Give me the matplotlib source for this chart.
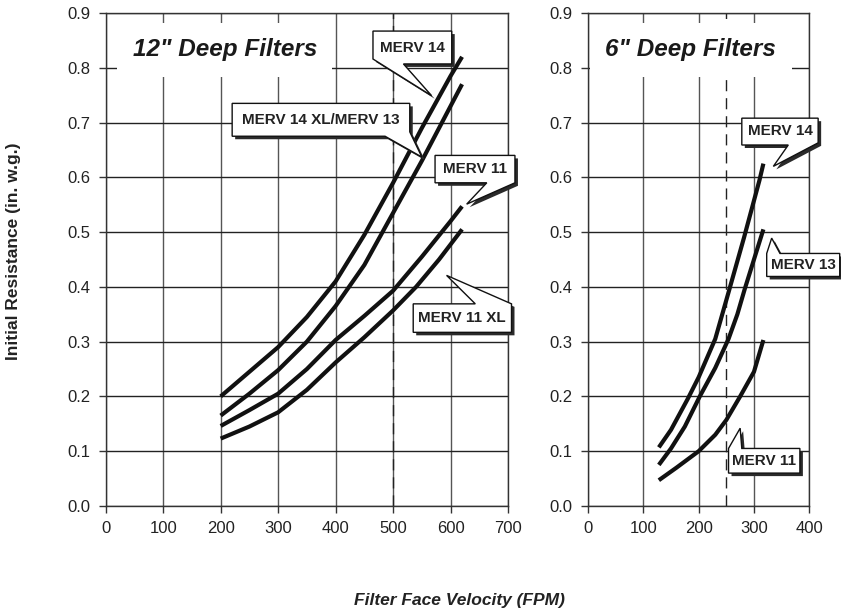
"""Initial resistance vs filter face velocity for 12" and 6" deep filters."""

import matplotlib

matplotlib.use("Agg")
import matplotlib.pyplot as plt
from matplotlib.patches import Polygon
from matplotlib.transforms import offset_copy

plt.rcParams["font.family"] = ["Liberation Sans", "DejaVu Sans"]

# 12" deep filters (FPM, in. w.g.)
deep12_merv14_fpm = [200, 250, 300, 350, 400, 450, 500, 550, 600, 620]
deep12_merv14_res = [0.20, 0.245, 0.29, 0.345, 0.41, 0.495, 0.59, 0.69, 0.785, 0.82]
deep12_merv13_fpm = [200, 250, 300, 350, 400, 450, 500, 550, 600, 620]
deep12_merv13_res = [0.165, 0.205, 0.248, 0.30, 0.365, 0.44, 0.535, 0.63, 0.73, 0.77]
deep12_merv11_fpm = [200, 250, 300, 350, 400, 450, 500, 550, 600, 620]
deep12_merv11_res = [0.146, 0.175, 0.205, 0.25, 0.303, 0.347, 0.393, 0.455, 0.52, 0.547]
deep12_merv11xl_fpm = [200, 250, 300, 350, 400, 450, 500, 540, 580, 620]
deep12_merv11xl_res = [0.123, 0.145, 0.171, 0.212, 0.262, 0.308, 0.357, 0.40, 0.45, 0.505]

# 6" deep filters
deep6_merv14_fpm = [128, 150, 180, 200, 230, 254, 282, 310, 317]
deep6_merv14_res = [0.107, 0.139, 0.195, 0.235, 0.305, 0.39, 0.49, 0.595, 0.625]
deep6_merv13_fpm = [128, 150, 175, 202, 230, 254, 270, 283, 300, 317]
deep6_merv13_res = [0.075, 0.105, 0.145, 0.20, 0.252, 0.305, 0.35, 0.395, 0.45, 0.505]
deep6_merv11_fpm = [128, 160, 200, 230, 250, 275, 300, 317]
deep6_merv11_res = [0.047, 0.07, 0.10, 0.13, 0.157, 0.20, 0.245, 0.303]

left_xticks = [0, 100, 200, 300, 400, 500, 600, 700]
right_xticks = [0, 100, 200, 300, 400]
yticks = [0.0, 0.1, 0.2, 0.3, 0.4, 0.5, 0.6, 0.7, 0.8, 0.9]

CURVE = dict(color="#111111", linewidth=3.0, solid_capstyle="butt",
             solid_joinstyle="round", zorder=3)


def style_axis(ax, xticks, dash_x):
    ax.set_xlim(xticks[0], xticks[-1])
    ax.set_ylim(0, 0.9)
    ax.set_xticks(xticks)
    ax.set_yticks(yticks)
    ax.set_yticklabels([f"{v:.1f}" for v in yticks])
    for x in xticks:
        ax.axvline(x, color="#555555", linewidth=1.0, zorder=1)
    for y in yticks:
        ax.axhline(y, color="#222222", linewidth=1.0, zorder=1)
    ax.axvline(dash_x, color="#222222", linewidth=1.0, dashes=(8, 5), zorder=1)
    for spine in ax.spines.values():
        spine.set_color("#333333")
        spine.set_linewidth(1.0)
    ax.tick_params(direction="out", length=5, width=1, color="#333333",
                   labelsize=12, labelcolor="#222222", pad=6)


def callout(ax, verts, text_xy, label, fig):
    shadow = offset_copy(ax.transData, fig=fig, x=3, y=-3, units="dots")
    ax.add_patch(Polygon(verts, closed=True, facecolor="#2a2a2a", edgecolor="none",
                         transform=shadow, clip_on=False, zorder=4))
    ax.add_patch(Polygon(verts, closed=True, facecolor="white", edgecolor="#111111",
                         linewidth=1.0, clip_on=False, zorder=5))
    ax.text(*text_xy, label, ha="center", va="center", fontsize=11,
            fontweight="bold", color="#222222", zorder=6, clip_on=False)


fig = plt.figure(figsize=(8.41, 6.13), dpi=100)
ax_l = fig.add_axes([0.1257, 0.1746, 0.4784, 0.8042])
ax_r = fig.add_axes([0.6992, 0.1746, 0.2631, 0.8042])

style_axis(ax_l, left_xticks, 500)
style_axis(ax_r, right_xticks, 250)

ax_l.plot(deep12_merv14_fpm, deep12_merv14_res, **CURVE)
ax_l.plot(deep12_merv13_fpm, deep12_merv13_res, **CURVE)
ax_l.plot(deep12_merv11_fpm, deep12_merv11_res, **CURVE)
ax_l.plot(deep12_merv11xl_fpm, deep12_merv11xl_res, **CURVE)

ax_r.plot(deep6_merv14_fpm, deep6_merv14_res, **CURVE)
ax_r.plot(deep6_merv13_fpm, deep6_merv13_res, **CURVE)
ax_r.plot(deep6_merv11_fpm, deep6_merv11_res, **CURVE)

title_box = dict(facecolor="white", edgecolor="none", pad=11)
ax_l.text(207, 0.833, '12" Deep Filters', ha="center", va="center", fontsize=17.5,
          fontweight="bold", fontstyle="italic", color="#1a1a1a", bbox=title_box, zorder=2)
ax_r.text(186, 0.833, '6" Deep Filters', ha="center", va="center", fontsize=17.5,
          fontweight="bold", fontstyle="italic", color="#1a1a1a", bbox=title_box, zorder=2)

# callouts (box + pointer) in data coordinates
callout(ax_l, [(465, 0.867), (602, 0.867), (602, 0.807), (518, 0.807), (567, 0.749),
               (465, 0.816)], (533, 0.837), "MERV 14", fig)
callout(ax_l, [(220, 0.735), (529, 0.735), (529, 0.683), (550, 0.637), (486, 0.675),
               (220, 0.675)], (374, 0.705), "MERV 14 XL/MERV 13", fig)
callout(ax_l, [(573, 0.640), (712, 0.640), (712, 0.590), (628, 0.551), (663, 0.590),
               (573, 0.590)], (642, 0.615), "MERV 11", fig)
callout(ax_l, [(535, 0.369), (643, 0.369), (593, 0.421), (706, 0.369), (706, 0.317),
               (535, 0.317)], (620, 0.343), "MERV 11 XL", fig)

callout(ax_r, [(278, 0.708), (416, 0.708), (416, 0.663), (335, 0.620), (362, 0.659),
               (278, 0.659)], (347, 0.684), "MERV 14", fig)
callout(ax_r, [(323, 0.461), (332, 0.489), (347, 0.461), (455, 0.461), (455, 0.419),
               (323, 0.419)], (389, 0.440), "MERV 13", fig)
callout(ax_r, [(254, 0.060), (254, 0.105), (275, 0.142), (278, 0.105), (383, 0.105),
               (383, 0.060)], (318, 0.083), "MERV 11", fig)

fig.text(0.016, 0.59, "Initial Resistance (in. w.g.)", rotation=90, ha="center",
         va="center", fontsize=12.5, fontweight="bold", color="#222222")
fig.text(0.546, 0.021, "Filter Face Velocity (FPM)", ha="center", va="center",
         fontsize=12.5, fontweight="bold", fontstyle="italic", color="#222222")

fig.savefig("out.png", dpi=100)
